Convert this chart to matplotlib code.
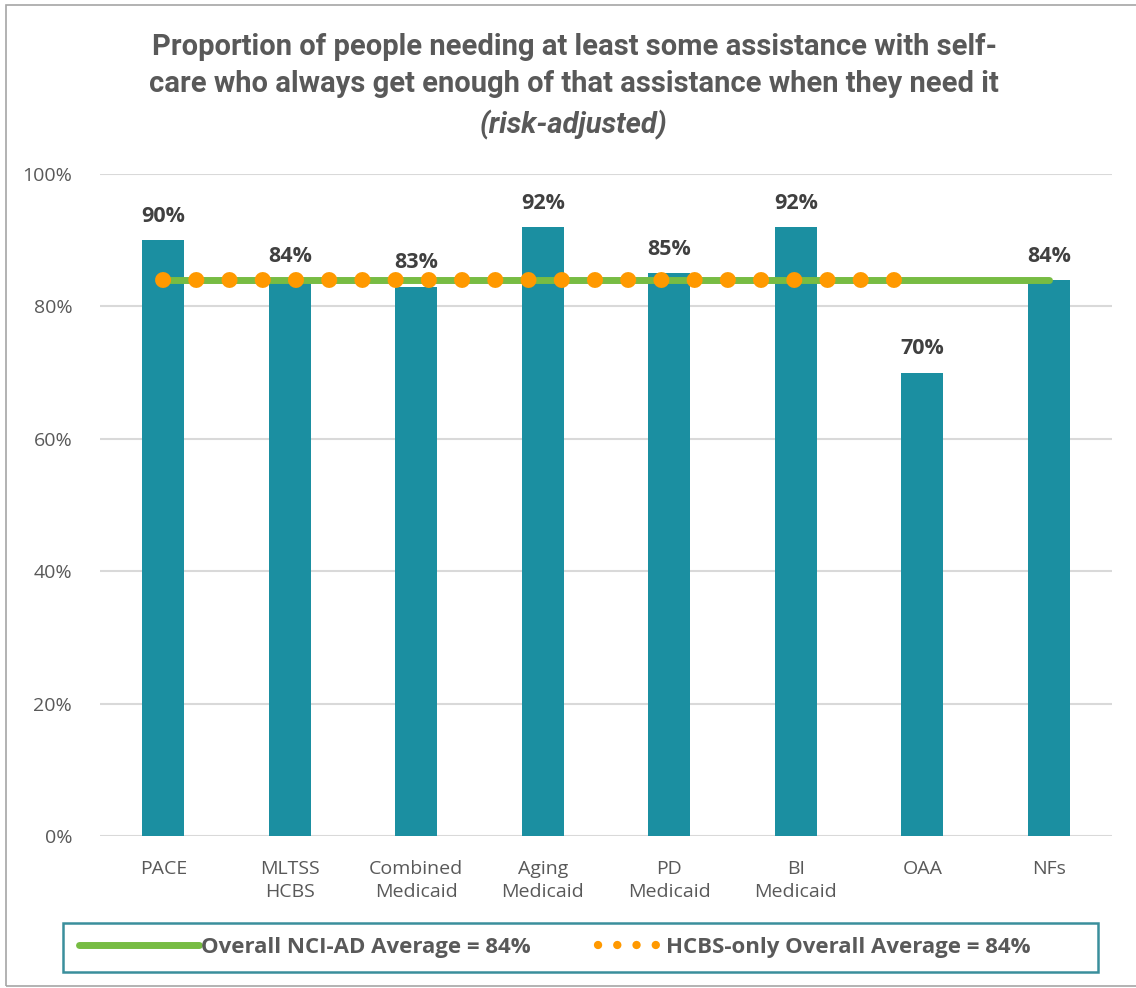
import numpy as np
import matplotlib
matplotlib.use("Agg")
from matplotlib import pyplot as plt
from matplotlib.lines import Line2D
from matplotlib.patches import Rectangle
from matplotlib.legend_handler import HandlerLine2D

# data
categories = ["PACE", "MLTSS\nHCBS", "Combined\nMedicaid", "Aging\nMedicaid",
              "PD\nMedicaid", "BI\nMedicaid", "OAA", "NFs"]
values = [90, 84, 83, 92, 85, 92, 70, 84]
overall_avg = [84, 84, 84, 84, 84, 84, 84, 84]
hcbs_avg = [84, 84, 84, 84, 84, 84, 84, np.nan]
y_ticks = [0, 20, 40, 60, 80, 100]

teal = "#1b8fa1"
green = "#77bc43"
orange = "#ff9900"
gray_txt = "#595959"
dark_txt = "#404040"

W, H = 1136, 988
fig = plt.figure(figsize=(W / 100, H / 100), dpi=100)

# axes placed in pixel terms of the reference
ax = fig.add_axes([100 / W, 1 - 836 / H, (1112 - 100) / W, (836 - 174) / H])

x = np.arange(len(categories))
ax.bar(x, values, width=0.33, color=teal, zorder=2)

ax.plot(x, overall_avg, color=green, lw=5, solid_capstyle="round", zorder=3)
ax.plot(x, hcbs_avg, color=orange, lw=11.5, linestyle=(0, (0.01, 2.07)),
        dash_capstyle="round", zorder=4)

for xi, v in zip(x, values):
    ax.annotate(f"{v}%", (xi, v), xytext=(0, 17), textcoords="offset points",
                ha="center", va="center", fontsize=15.5, fontweight="bold",
                color=dark_txt, family="Open Sans")

ax.set_xlim(-0.5, len(categories) - 0.5)
ax.set_ylim(0, 100)
ax.set_yticks(y_ticks)
ax.set_yticklabels([f"{t}%" for t in y_ticks])
ax.set_xticks(x)
ax.set_xticklabels(categories, linespacing=1.4)
ax.tick_params(axis="both", length=0, labelsize=14, labelcolor=gray_txt)
ax.tick_params(axis="x", pad=17)
ax.tick_params(axis="y", pad=20)
for lab in ax.get_xticklabels() + ax.get_yticklabels():
    lab.set_family("Open Sans")
for lab in ax.get_xticklabels():
    lab.set_va("top")

ax.grid(axis="y", color="#d9d9d9", lw=1.5, zorder=0)
ax.set_axisbelow(True)
for s in ax.spines.values():
    s.set_visible(False)

# title, three lines
title_font = ["Roboto", "DejaVu Sans"]
title_kw = dict(ha="center", va="center", fontsize=21, fontweight="bold",
                color=gray_txt, family=title_font)
fig.text(574 / W, 1 - 47 / H,
         "Proportion of people needing at least some assistance with self-",
         **title_kw)
fig.text(574 / W, 1 - 84 / H,
         "care who always get enough of that assistance when they need it",
         **title_kw)
fig.text(574 / W, 1 - 125 / H, "(risk-adjusted)", style="italic", **title_kw)


class ShortHandler(HandlerLine2D):
    # shorter handle, pushed to the right end of the handle slot
    def create_artists(self, legend, orig_handle, xdescent, ydescent,
                       width, height, fontsize, trans):
        return super().create_artists(legend, orig_handle,
                                      xdescent - width * 0.45, ydescent,
                                      width * 0.55, height, fontsize, trans)


h_green = Line2D([], [], color=green, lw=5, solid_capstyle="round")
h_orange = Line2D([], [], color=orange, lw=6, linestyle=(0, (0.01, 2.3)),
                  dash_capstyle="round")
leg = fig.legend([h_green, h_orange],
                 ["Overall NCI-AD Average = 84%", "HCBS-only Overall Average = 84%"],
                 loc="center", bbox_to_anchor=(555 / W, 1 - 947 / H), ncol=2,
                 frameon=False, handlelength=5.4, handletextpad=0.1,
                 columnspacing=0.6, handler_map={h_orange: ShortHandler()},
                 prop={"family": "Open Sans", "weight": "bold", "size": 16})
for t in leg.get_texts():
    t.set_color(gray_txt)

fig.add_artist(Rectangle((63 / W, 1 - 972 / H), (1098 - 63) / W, 49 / H,
                         transform=fig.transFigure, fill=False,
                         ec="#3a8f9c", lw=1.8))

# outer chart border
fig.add_artist(Rectangle((6 / W, 1 - 986 / H), (1140 - 6) / W, (986 - 5) / H,
                         transform=fig.transFigure, fill=False,
                         ec="#a6a6a6", lw=1.2))

fig.savefig("out.png", dpi=100)
